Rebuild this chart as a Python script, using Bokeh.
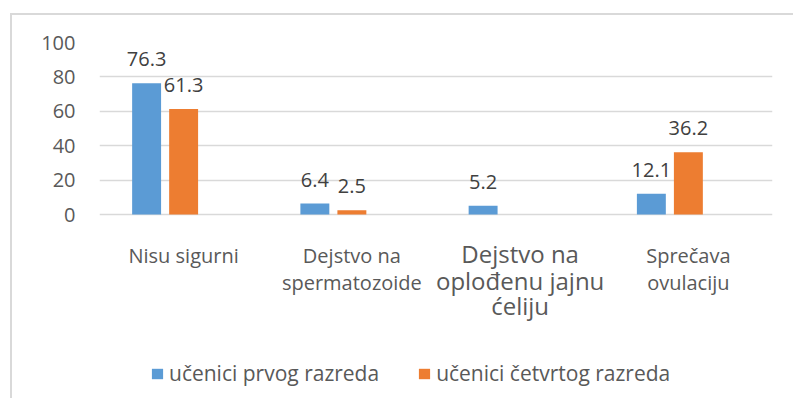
from bokeh.plotting import figure
from bokeh.models import (ColumnDataSource, FactorRange, Range1d, LabelSet, Legend,
                          LegendItem, FixedTicker)
from bokeh.transform import dodge
from bokeh.core.properties import value
from bokeh.embed import file_html
from bokeh.resources import INLINE

# ---- data ----
categories = ["Nisu sigurni", "Dejstvo na spermatozoide",
              "Dejstvo na oplođenu jajnu ćeliju", "Sprečava ovulaciju"]
category_lines = [["Nisu sigurni"], ["Dejstvo na", "spermatozoide"],
                  ["Dejstvo na", "oplođenu jajnu", "ćeliju"], ["Sprečava", "ovulaciju"]]
series_names = ["učenici prvog razreda", "učenici četvrtog razreda"]
prvi = [76.3, 6.4, 5.2, 12.1]
cetvrti = [61.3, 2.5, None, 36.2]
y_ticks = [0, 20, 40, 60, 80, 100]

# ---- style ----
BLUE = "#5B9BD5"
ORANGE = "#ED7D31"
AXIS_TXT = "#595959"
VAL_TXT = "#404040"
GRID = "#d9d9d9"
FONT = "Open Sans"
SLOT = 0.22
BAR_W = 0.172
LINE_BASE = [-27.9, -44.0, -58.4]

p = figure(width=783, height=385, output_backend="svg", toolbar_location=None,
           x_range=FactorRange(factors=categories, range_padding=0),
           y_range=Range1d(-108, 100), x_axis_location=None,
           min_border_left=87, min_border_right=23, min_border_top=27,
           min_border_bottom=0)
p.styles = {"margin-left": "10px", "margin-top": "13px",
            "border-left": "2px solid #d9d9d9", "border-top": "2px solid #d9d9d9"}
p.outline_line_color = None
p.background_fill_color = "white"
p.border_fill_color = "white"

p.xgrid.visible = False
p.yaxis.ticker = FixedTicker(ticks=y_ticks)
p.yaxis.axis_line_color = None
p.yaxis.major_tick_line_color = None
p.yaxis.minor_tick_line_color = None
p.yaxis.major_tick_out = 0
p.yaxis.major_tick_in = 0
p.yaxis.major_label_standoff = 24
p.yaxis.major_label_text_font = FONT
p.yaxis.major_label_text_font_size = "20px"
p.yaxis.major_label_text_color = AXIS_TXT
p.ygrid.grid_line_color = GRID
p.ygrid.grid_line_width = 1.5

def rows(vals):
    c, v, t = [], [], []
    for cat, x in zip(categories, vals):
        if x is None:
            continue
        c.append(cat); v.append(x); t.append(f"{x:.1f}")
    return ColumnDataSource(dict(cat=c, val=v, txt=t))

src1 = rows(prvi)
src2 = rows(cetvrti)

r1 = p.vbar(x=dodge("cat", -SLOT, range=p.x_range), top="val", width=BAR_W,
            source=src1, fill_color=BLUE, line_color=None)
r2 = p.vbar(x=dodge("cat", 0.0, range=p.x_range), top="val", width=BAR_W,
            source=src2, fill_color=ORANGE, line_color=None)

for src, off in ((src1, -SLOT), (src2, 0.0)):
    p.add_layout(LabelSet(x=dodge("cat", off, range=p.x_range), y="val", text="txt",
                          source=src, y_offset=17, text_align="center",
                          text_baseline="alphabetic", text_font=value(FONT),
                          text_font_size="20px", text_color=VAL_TXT))

# category labels
cx, cy, ct, cf = [], [], [], []
for i, (cat, lines) in enumerate(zip(categories, category_lines)):
    for j, ln in enumerate(lines):
        cx.append(cat); cy.append(LINE_BASE[j]); ct.append(ln)
        cf.append("24px" if i == 2 else "20px")
csrc = ColumnDataSource(dict(x=cx, y=cy, t=ct, fs=cf))
p.add_layout(LabelSet(x="x", y="y", text="t", source=csrc, text_align="center",
                      text_baseline="alphabetic", text_font=value(FONT),
                      text_font_size="fs", text_color=AXIS_TXT))

legend = Legend(items=[LegendItem(label=series_names[0], renderers=[r1]),
                       LegendItem(label=series_names[1], renderers=[r2])],
                orientation="horizontal", location=(51, 13), padding=0, margin=0,
                spacing=38, glyph_width=14, glyph_height=13, label_standoff=5,
                label_text_font=FONT, label_text_font_size="21px",
                label_text_color=AXIS_TXT, border_line_color=None,
                background_fill_alpha=0)
p.add_layout(legend)

open("out.html", "w").write(file_html(p, INLINE))
